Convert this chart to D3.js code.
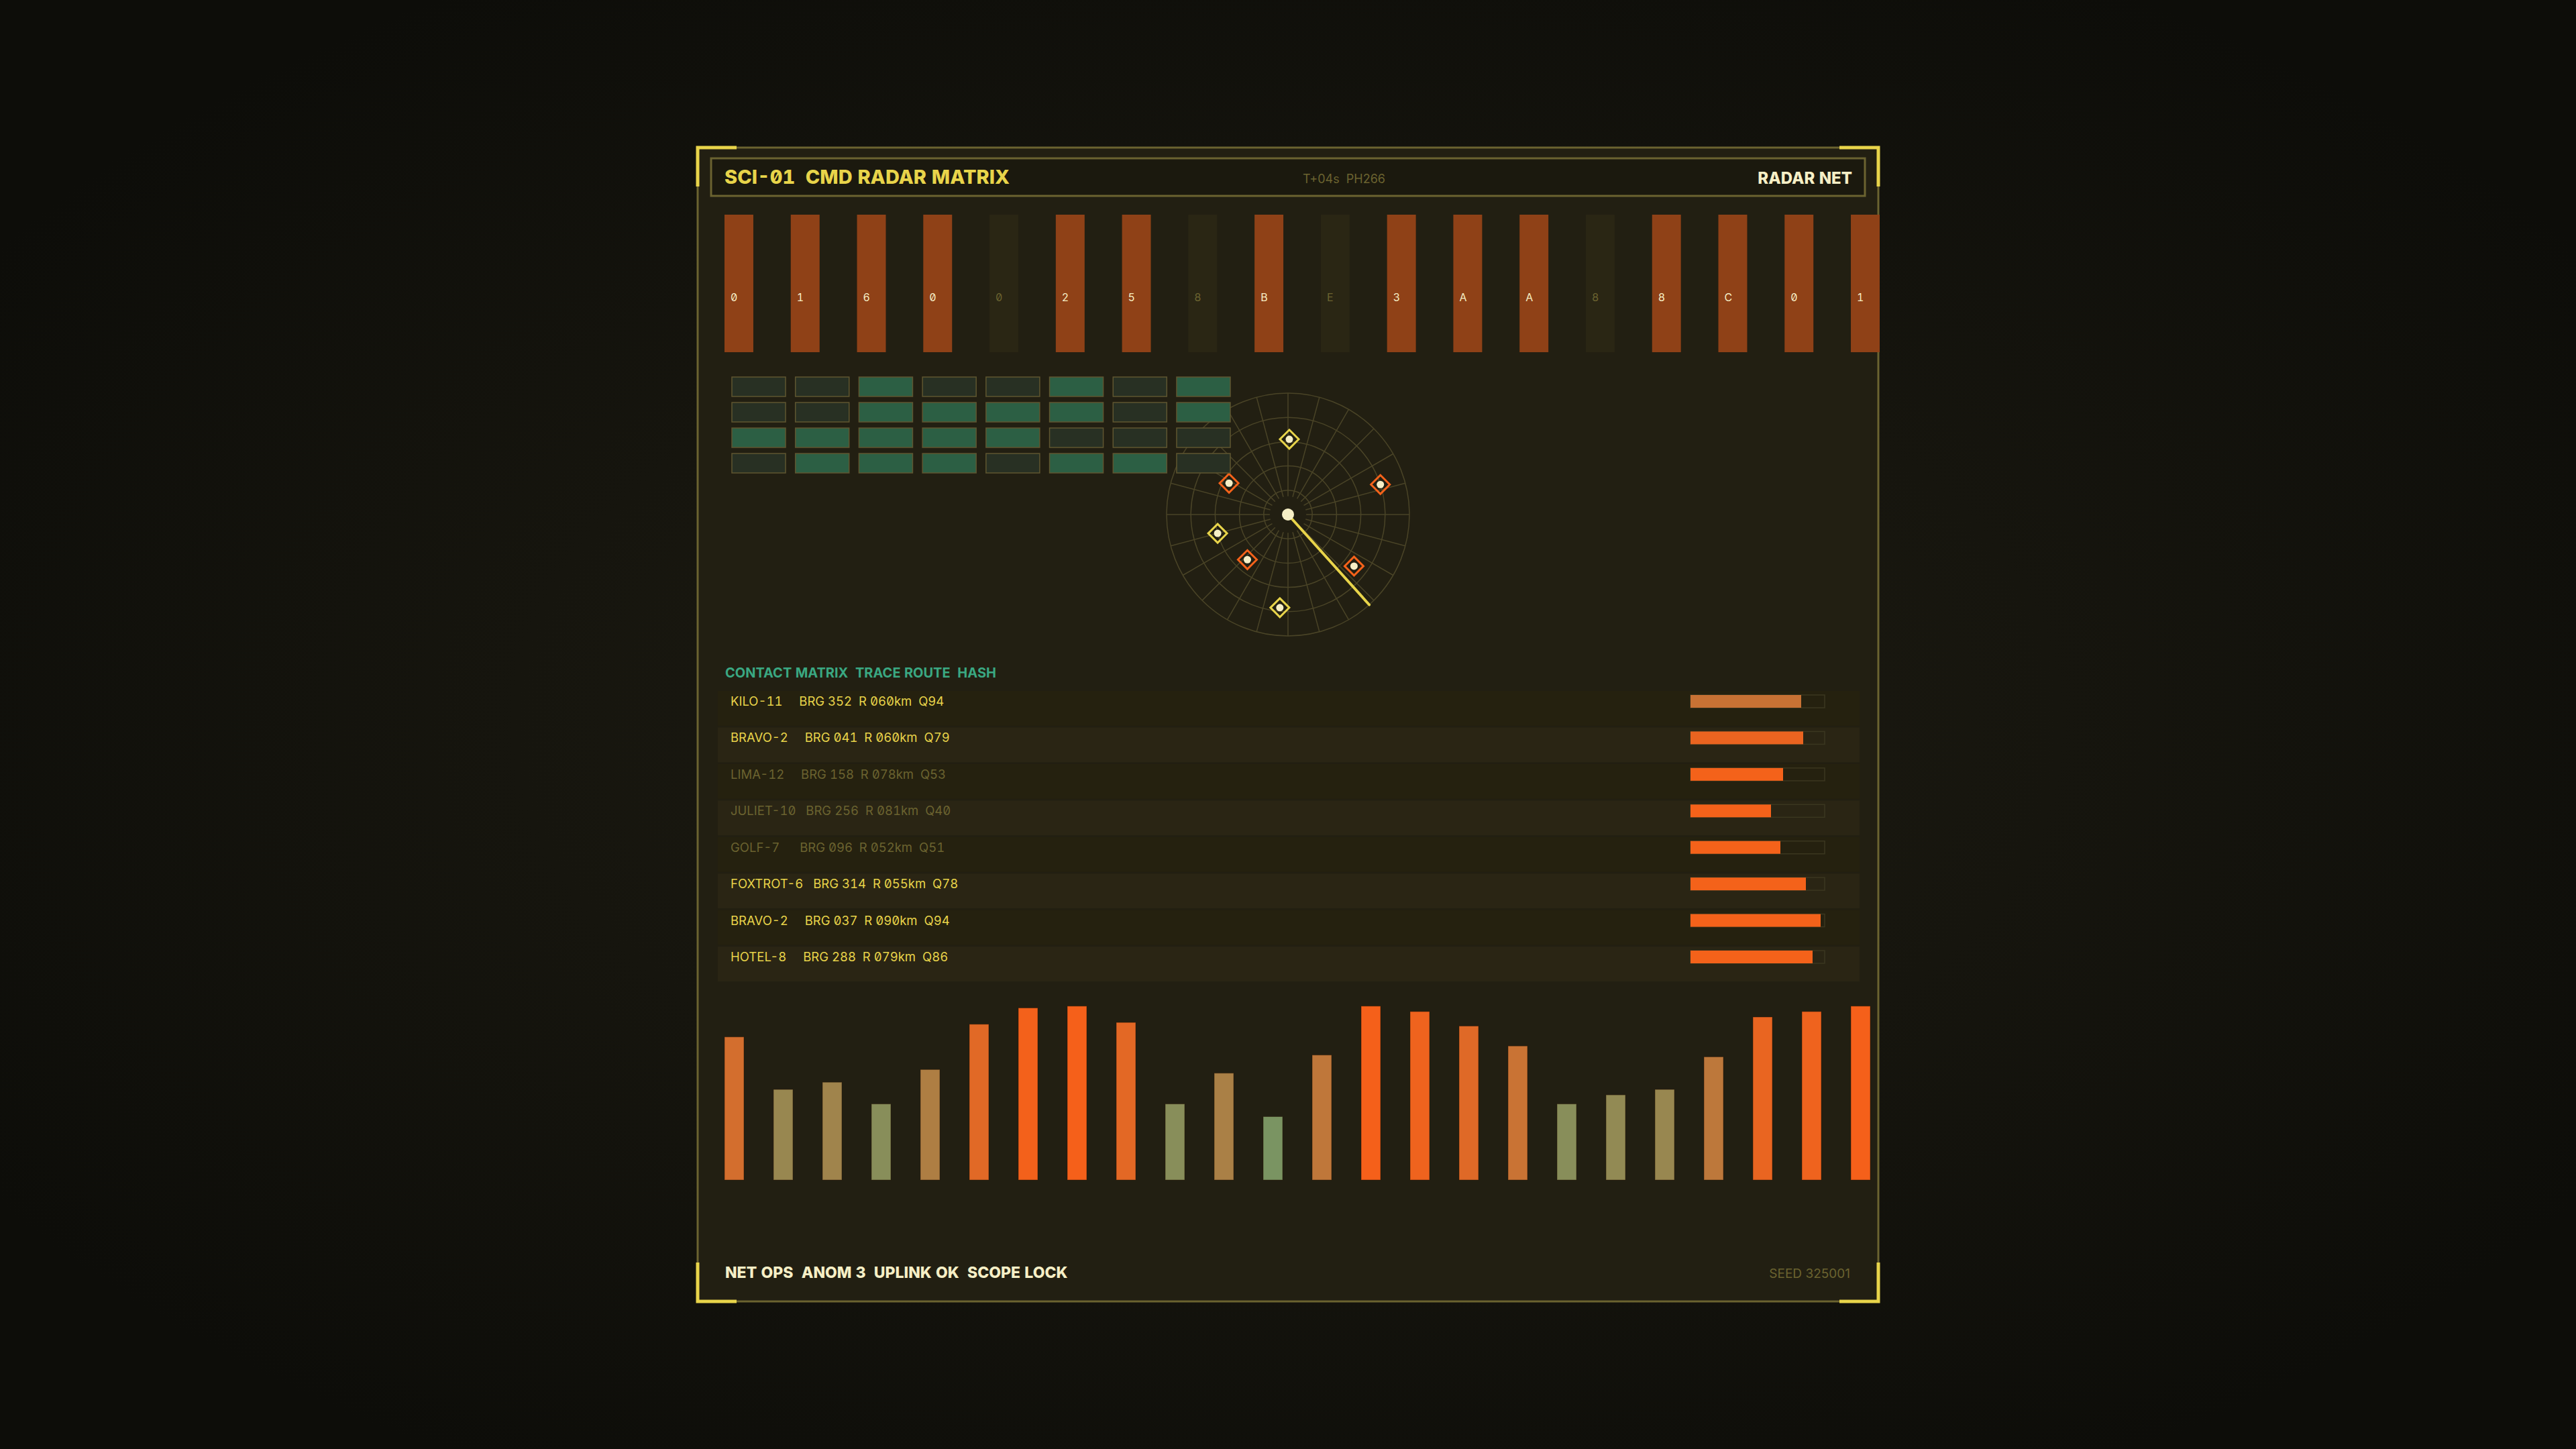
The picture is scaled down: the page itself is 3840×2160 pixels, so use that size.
<!DOCTYPE html>
<html lang="en">
<head>
    <meta charset="UTF-8">
    <title>radar matrix</title>
    <script src="https://d3js.org/d3.v7.min.js"></script>
    <style>
        html, body { margin: 0; padding: 0; background: #0e0e0a; }
        svg { display: block; }
        text { font-family: "Inter", "Noto Sans", sans-serif; font-feature-settings: "zero" 1, "tnum" 1; }
        .pre { white-space: pre; }
    </style>
</head>
<body>
    <svg></svg>
    <script>
        const width = 3840;
        const height = 2160;

        // hex strip
        const hexCodes = ["0", "1", "6", "0", "0", "2", "5", "8", "B", "E", "3", "A", "A", "8", "8", "C", "0", "1"];
        const hexActive = [1, 1, 1, 1, 0, 1, 1, 0, 1, 0, 1, 1, 1, 0, 1, 1, 1, 1];

        // cell matrix (4 rows x 8 cols)
        const cellRows = [
            [0, 0, 1, 0, 0, 1, 0, 1],
            [0, 0, 1, 1, 1, 1, 0, 1],
            [1, 1, 1, 1, 1, 0, 0, 0],
            [0, 1, 1, 1, 0, 1, 1, 0]
        ];

        // radar blips
        const blipBearing = [1, 72, 298, 255, 222, 128, 185];
        const blipRange = [0.62, 0.80, 0.55, 0.60, 0.50, 0.69, 0.77];
        const blipKind = ["track", "alert", "alert", "track", "alert", "alert", "track"];
        const sweepBearing = 138;
        const ringLevels = [0.2, 0.4, 0.6, 0.8, 1.0];

        // contact list
        const contactNames = ["KILO-11", "BRAVO-2", "LIMA-12", "JULIET-10", "GOLF-7", "FOXTROT-6", "BRAVO-2", "HOTEL-8"];
        const contactBrg = ["352", "041", "158", "256", "096", "314", "037", "288"];
        const contactRange = ["060", "060", "078", "081", "052", "055", "090", "079"];
        const contactQ = [94, 79, 53, 40, 51, 78, 94, 86];
        const contactLive = [1, 1, 0, 0, 0, 1, 1, 1];
        const contactGauge = [82.5, 84, 69, 60, 67, 86, 97, 91];

        // signal bars
        const signalValues = [79, 50, 54, 42, 61, 86, 95, 96, 87, 42, 59, 35,
                              69, 96, 93, 85, 74, 42, 47, 50, 68, 90, 93, 96];

        const C = {
            panel: "#221f12",
            header: "#1b190e",
            line: "#6b6330",
            accent: "#e8d44a",
            cream: "#f6efc6",
            rust: "#8f4117",
            rustOff: "#2a2614",
            cellOn: "#2c5f44",
            cellOff: "#283023",
            cellStroke: "#5f5630",
            grid: "#4a4427",
            orange: "#f4621a",
            teal: "#3aa882"
        };

        const svg = d3.select("svg")
            .attr("width", width)
            .attr("height", height);

        // background
        const defs = svg.append("defs");
        const bg = defs.append("radialGradient").attr("id", "bg")
            .attr("cx", "50%").attr("cy", "50%").attr("r", "60%");
        bg.append("stop").attr("offset", "0%").attr("stop-color", "#1f1d13");
        bg.append("stop").attr("offset", "100%").attr("stop-color", "#0d0d09");
        svg.append("rect").attr("width", width).attr("height", height).attr("fill", "url(#bg)");

        // panel
        const P = {x: 1040, y: 220, w: 1760, h: 1720};
        svg.append("rect")
            .attr("x", P.x).attr("y", P.y).attr("width", P.w).attr("height", P.h)
            .attr("fill", C.panel).attr("stroke", C.line).attr("stroke-width", 3);

        // corner accents
        const cl = 58;
        const corners = [
            [[P.x, P.y + cl], [P.x, P.y], [P.x + cl, P.y]],
            [[P.x + P.w - cl, P.y], [P.x + P.w, P.y], [P.x + P.w, P.y + cl]],
            [[P.x, P.y + P.h - cl], [P.x, P.y + P.h], [P.x + cl, P.y + P.h]],
            [[P.x + P.w - cl, P.y + P.h], [P.x + P.w, P.y + P.h], [P.x + P.w, P.y + P.h - cl]]
        ];
        svg.append("g").selectAll("path")
            .data(corners)
            .join("path")
            .attr("d", d3.line())
            .attr("fill", "none")
            .attr("stroke", C.accent)
            .attr("stroke-width", 5);

        // header
        svg.append("rect")
            .attr("x", 1060).attr("y", 236).attr("width", 1720).attr("height", 56)
            .attr("fill", C.header).attr("stroke", C.line).attr("stroke-width", 3);
        svg.append("text").attr("class", "pre")
            .attr("x", 1080).attr("y", 274)
            .attr("font-size", 29).attr("font-weight", 800).attr("fill", C.accent)
            .text("SCI-01  CMD RADAR MATRIX");
        svg.append("text").attr("class", "pre")
            .attr("x", 1942).attr("y", 273)
            .attr("font-size", 18).attr("fill", C.line)
            .style("font-feature-settings", "normal")
            .text("T+04s  PH266");
        svg.append("text")
            .attr("x", 2761).attr("y", 274).attr("text-anchor", "end")
            .attr("font-size", 24).attr("font-weight", 800).attr("fill", C.cream)
            .text("RADAR NET");

        // hex strip
        const hx = d3.scaleBand()
            .domain(d3.range(hexCodes.length))
            .range([1080, 2802])
            .paddingInner(0.565);
        const hexG = svg.append("g");
        hexG.selectAll("rect")
            .data(hexCodes)
            .join("rect")
            .attr("x", (d, i) => hx(i))
            .attr("y", 320)
            .attr("width", hx.bandwidth())
            .attr("height", 205)
            .attr("fill", (d, i) => hexActive[i] ? C.rust : C.rustOff);
        hexG.selectAll("text")
            .data(hexCodes)
            .join("text")
            .attr("x", (d, i) => hx(i) + 9)
            .attr("y", 449)
            .attr("font-size", 16)
            .attr("fill", (d, i) => hexActive[i] ? C.cream : C.line)
            .text(d => d);

        // radar (drawn under the cell matrix)
        const R = {x: 1920, y: 767};
        const rr = d3.scaleLinear().domain([0, 1]).range([0, 181]);
        const ang = d3.scaleLinear().domain([0, 360]).range([0, 2 * Math.PI]);
        const polar = (b, r) => [Math.sin(ang(b)) * rr(r), -Math.cos(ang(b)) * rr(r)];
        const radar = svg.append("g").attr("transform", `translate(${R.x}, ${R.y})`);

        radar.selectAll("circle.ring")
            .data(ringLevels)
            .join("circle")
            .attr("class", "ring")
            .attr("r", d => rr(d))
            .attr("fill", "none")
            .attr("stroke", C.grid)
            .attr("stroke-width", 1.5);
        radar.selectAll("line.spoke")
            .data(d3.range(0, 360, 15))
            .join("line")
            .attr("class", "spoke")
            .attr("x1", d => polar(d, 0.15)[0]).attr("y1", d => polar(d, 0.15)[1])
            .attr("x2", d => polar(d, 1)[0]).attr("y2", d => polar(d, 1)[1])
            .attr("stroke", C.grid)
            .attr("stroke-width", 1.5);

        const blips = radar.selectAll("g.blip")
            .data(blipBearing)
            .join("g")
            .attr("class", "blip")
            .attr("transform", (d, i) => `translate(${polar(d, blipRange[i])})`);
        blips.append("path")
            .attr("d", "M0,-14L14,0L0,14L-14,0Z")
            .attr("fill", "none")
            .attr("stroke", (d, i) => blipKind[i] === "alert" ? C.orange : C.accent)
            .attr("stroke-width", 3);
        blips.append("circle")
            .attr("r", 5.5)
            .attr("fill", C.cream);

        radar.append("line")
            .attr("x1", 0).attr("y1", 0)
            .attr("x2", polar(sweepBearing, 1)[0]).attr("y2", polar(sweepBearing, 1)[1])
            .attr("stroke", C.accent)
            .attr("stroke-width", 4)
            .attr("stroke-linecap", "round");
        radar.append("circle").attr("r", 9).attr("fill", C.cream);

        // cell matrix
        const cx = d3.scaleBand().domain(d3.range(8)).range([1091, 1834]).paddingInner(0.155);
        const cy = d3.scaleBand().domain(d3.range(4)).range([562, 705]).paddingInner(0.237);
        svg.append("g").selectAll("g")
            .data(cellRows)
            .join("g")
            .attr("transform", (d, j) => `translate(0, ${cy(j)})`)
            .selectAll("rect")
            .data(d => d)
            .join("rect")
            .attr("x", (d, i) => cx(i))
            .attr("width", cx.bandwidth())
            .attr("height", cy.bandwidth())
            .attr("fill", d => d ? C.cellOn : C.cellOff)
            .attr("stroke", C.cellStroke)
            .attr("stroke-width", 1.5);

        // contact list
        svg.append("text").attr("class", "pre")
            .attr("x", 1081).attr("y", 1010)
            .attr("font-size", 20).attr("font-weight", 700).attr("fill", C.teal)
            .text("CONTACT MATRIX  TRACE ROUTE  HASH");

        const ry = d3.scaleBand().domain(d3.range(contactNames.length)).range([1030, 1463]).paddingInner(0.045);
        const gx = d3.scaleLinear().domain([0, 100]).range([2520, 2720]);
        const rows = svg.append("g").selectAll("g")
            .data(contactNames)
            .join("g")
            .attr("transform", (d, i) => `translate(0, ${ry(i)})`);
        rows.append("rect")
            .attr("x", 1070).attr("width", 1702).attr("height", ry.bandwidth())
            .attr("fill", (d, i) => i % 2 ? "#2a2514" : "#25210f");
        rows.append("text").attr("class", "pre")
            .attr("x", 1089).attr("y", 22)
            .attr("font-size", 18.5)
            .attr("fill", (d, i) => contactLive[i] ? C.accent : C.line)
            .text((d, i) => `${d.padEnd(10)}  BRG ${contactBrg[i]}  R ${contactRange[i]}km  Q${contactQ[i]}`);
        rows.append("rect")
            .attr("x", gx(0)).attr("y", 6)
            .attr("width", gx(100) - gx(0)).attr("height", 19)
            .attr("fill", "none").attr("stroke", "#3b3720").attr("stroke-width", 1.5);
        rows.append("rect")
            .attr("x", gx(0)).attr("y", 6)
            .attr("width", (d, i) => gx(contactGauge[i]) - gx(0)).attr("height", 19)
            .attr("fill", (d, i) => i === 0 ? "#c87234" : (i === 1 ? "#ea6420" : C.orange));

        // signal bars
        const sx = d3.scaleBand().domain(d3.range(signalValues.length)).range([1080, 2788]).paddingInner(0.603);
        const sy = d3.scaleLinear().domain([0, 100]).range([1759, 1489]);
        const sc = d3.scaleLinear()
            .domain([d3.min(signalValues), d3.max(signalValues)])
            .range(["#7a9462", "#f5601a"]);
        svg.append("g").selectAll("rect")
            .data(signalValues)
            .join("rect")
            .attr("x", (d, i) => sx(i))
            .attr("y", d => sy(d))
            .attr("width", sx.bandwidth())
            .attr("height", d => sy(0) - sy(d))
            .attr("fill", d => sc(d))
            .attr("stroke", "rgba(40,20,5,0.45)")
            .attr("stroke-width", 1);

        // footer
        svg.append("text").attr("class", "pre")
            .attr("x", 1081).attr("y", 1905)
            .attr("font-size", 23).attr("font-weight", 800).attr("fill", C.cream)
            .text("NET OPS  ANOM 3  UPLINK OK  SCOPE LOCK");
        svg.append("text")
            .attr("x", 2758).attr("y", 1905).attr("text-anchor", "end")
            .attr("font-size", 19).attr("fill", C.line)
            .style("font-feature-settings", "normal")
            .text("SEED 325001");
    </script>
</body>
</html>
